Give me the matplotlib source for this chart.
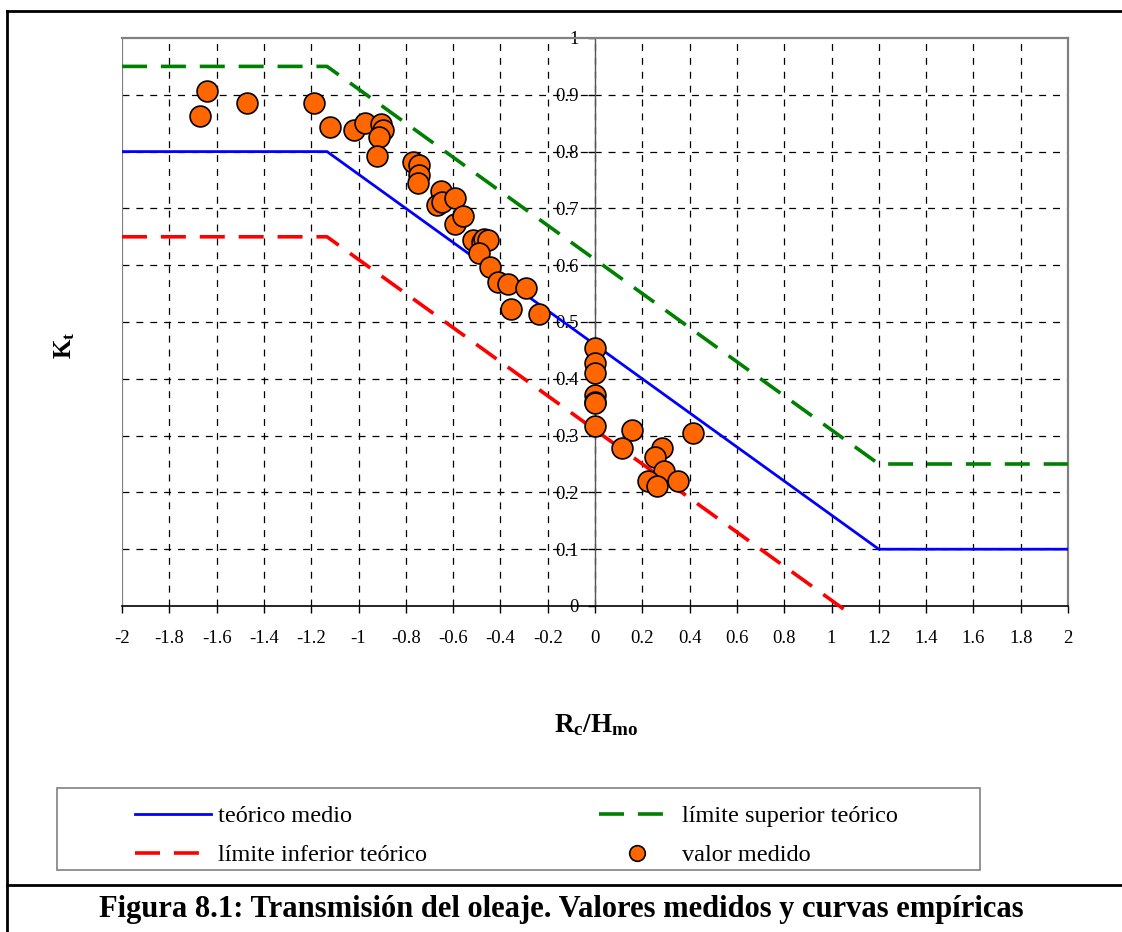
import matplotlib
matplotlib.use("Agg")
import matplotlib.pyplot as plt
from matplotlib.lines import Line2D
from matplotlib.patches import Rectangle

plt.rcParams['font.family'] = ['Liberation Serif', 'DejaVu Serif']
plt.rcParams['mathtext.fontset'] = 'custom'
plt.rcParams['mathtext.rm'] = 'Liberation Serif'
plt.rcParams['mathtext.bf'] = 'Liberation Serif:bold'
plt.rcParams['lines.scale_dashes'] = False

# theoretical curves (Rc/Hmo, Kt)
medio_x = [-2.0, -1.133, 1.2, 2.0]
medio_y = [0.80, 0.80, 0.10, 0.10]
superior_x = [-2.0, -1.133, 1.2, 2.0]
superior_y = [0.95, 0.95, 0.25, 0.25]
inferior_x = [-2.0, -1.133, 1.08]
inferior_y = [0.65, 0.65, -0.014]

# measured values
medido_x = [-1.639, -1.670, -1.470, -1.188, -1.120, -1.018, -0.973, -0.905,
            -0.898, -0.915, -0.920, -0.768, -0.743, -0.744, -0.750, -0.651,
            -0.669, -0.648, -0.592, -0.592, -0.557, -0.515, -0.479, -0.468,
            -0.451, -0.489, -0.444, -0.409, -0.369, -0.292, -0.356, -0.236,
            0.0, 0.0, 0.0, 0.0, 0.0, 0.0, 0.0,
            0.155, 0.113, 0.282, 0.254, 0.292, 0.225, 0.261, 0.350, 0.416]
medido_y = [0.907, 0.863, 0.885, 0.885, 0.844, 0.838, 0.850, 0.849,
            0.838, 0.826, 0.792, 0.782, 0.776, 0.759, 0.744, 0.731,
            0.706, 0.712, 0.718, 0.673, 0.687, 0.644, 0.641, 0.647,
            0.644, 0.622, 0.597, 0.571, 0.567, 0.559, 0.523, 0.514,
            0.454, 0.427, 0.411, 0.371, 0.360, 0.357, 0.317,
            0.310, 0.279, 0.278, 0.263, 0.238, 0.220, 0.212, 0.220, 0.304]

x_ticks = [round(-2 + 0.2 * i, 1) for i in range(21)]
y_ticks = [round(0.1 * i, 1) for i in range(11)]

W, H = 1122, 932
fig = plt.figure(figsize=(W / 100, H / 100), dpi=100)
ax = fig.add_axes([122 / W, 1 - 606 / H, 946 / W, 568 / H])

ax.set_xlim(-2, 2)
ax.set_ylim(0, 1)

# dashed black grid
for xv in x_ticks[1:-1]:
    ax.axvline(xv, color='black', lw=0.9, dashes=(5, 5), zorder=1)
for yv in y_ticks[1:-1]:
    ax.axhline(yv, color='black', lw=0.9, dashes=(5, 5), zorder=1)

dash = (18, 10)
ax.plot(medio_x, medio_y, color='#0000FF', lw=2.0, zorder=3,
        label='teórico medio')
ax.plot(inferior_x, inferior_y, color='#FF0000', lw=2.6, dashes=dash,
        zorder=3, clip_on=False, label='límite inferior teórico')
ax.plot(superior_x, superior_y, color='#008000', lw=2.6, dashes=dash,
        zorder=3, label='límite superior teórico')
ax.plot(medido_x, medido_y, 'o', ms=15, mfc='#FF6600', mec='black',
        mew=1.2, zorder=4, label='valor medido')

# plot area frame in grey, axes lines in black
for s in ['top', 'right']:
    ax.spines[s].set_color('#808080')
    ax.spines[s].set_linewidth(1.6)
ax.spines['left'].set_position(('data', 0))
ax.spines['left'].set_color('#555555')
ax.spines['left'].set_linewidth(1.0)
ax.spines['bottom'].set_color('black')
ax.spines['bottom'].set_linewidth(1.2)
ax.add_line(Line2D([0, 0], [0, 1], transform=ax.transAxes,
                   color='#808080', lw=1.6, zorder=2))

ax.set_xticks(x_ticks)
ax.set_xticklabels([f'{v:g}' for v in x_ticks])
ax.set_yticks(y_ticks)
ax.set_yticklabels([f'{v:g}' for v in y_ticks])
ax.tick_params(axis='x', direction='out', length=5, width=1, pad=12,
               labelsize=13.5)
ax.tick_params(axis='y', direction='out', length=5, width=1, pad=7,
               labelsize=13.5)

fig.text(65 / W, 1 - 345 / H, r'$\mathbf{K_t}$', rotation=90,
         ha='center', va='center', fontsize=18)
fig.text(596 / W, 1 - 725 / H, r'$\mathbf{R_c/H_{mo}}$',
         ha='center', va='center', fontsize=19.5)

# legend with its own frame
fig.add_artist(Rectangle((57 / W, 1 - 870 / H), (980 - 57) / W, 82 / H,
                         transform=fig.transFigure, fill=False,
                         edgecolor='#808080', lw=1.2))
handles, labels = ax.get_legend_handles_labels()
fig.legend(handles, labels, ncol=2, frameon=False, loc='upper left',
           bbox_to_anchor=(123 / W, 1 - 793 / H), fontsize=17.5,
           handlelength=3.1, handletextpad=0.3, columnspacing=7.1,
           labelspacing=0.7, markerscale=0.75, borderpad=0)

# outer figure frame and caption
fig.add_artist(Line2D([7 / W, 7 / W], [0, 1 - 11 / H],
                      transform=fig.transFigure, color='black', lw=2))
fig.add_artist(Line2D([7 / W, 1], [1 - 11 / H, 1 - 11 / H],
                      transform=fig.transFigure, color='black', lw=2))
fig.add_artist(Line2D([7 / W, 1], [1 - 885 / H, 1 - 885 / H],
                      transform=fig.transFigure, color='black', lw=2))
fig.text(561 / W, 1 - 909 / H,
         'Figura 8.1: Transmisión del oleaje. Valores medidos y curvas empíricas',
         ha='center', va='center', fontsize=22, fontweight='bold')

fig.savefig('out.png', dpi=100)
